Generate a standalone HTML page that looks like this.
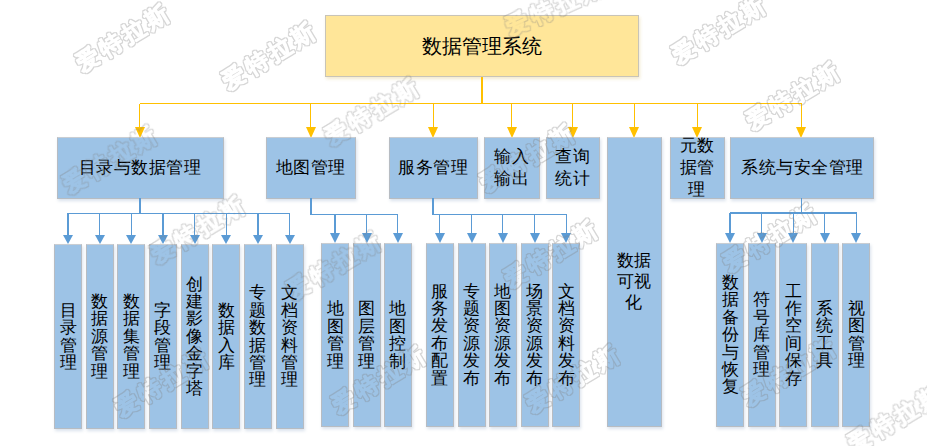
<!DOCTYPE html>
<html><head><meta charset="utf-8"><style>
html,body{margin:0;padding:0;background:#fff;width:927px;height:446px;overflow:hidden;position:relative}
body{font-family:"Liberation Sans",sans-serif;color:#000}
.b{position:absolute;box-sizing:border-box;background:#9DC3E6;border:1px solid #b7bcc2;border-top-color:#c9cdd2;box-shadow:1px 2px 3px rgba(70,110,160,0.2);display:flex;align-items:center;justify-content:center;text-align:center;font-size:17px}
.y{background:#FFE699;border-color:#c8c4b8;box-shadow:1px 2px 3px rgba(200,160,40,0.22);font-size:20px}
.h{line-height:20px;padding-top:0px;letter-spacing:0.5px}
.m{line-height:21.5px;letter-spacing:0.5px}
.v{line-height:17.4px}
.ln{position:absolute}
.wmsvg{position:absolute;left:0;top:0;z-index:5;pointer-events:none}
</style></head><body>
<div class="b y" style="left:324.8px;top:15.3px;width:314px;height:61.7px;">数据管理系统</div>
<div class="ln" style="left:481.0px;top:77px;width:2px;height:27px;background:#FFC000"></div>
<div class="ln" style="left:139.5px;top:102.75px;width:662.0px;height:1.5px;background:#FFC000"></div>
<div class="ln" style="left:138.85px;top:103.5px;width:1.3px;height:24.0px;background:#FFC000"></div>
<div class="ln" style="left:134.5px;top:126.5px;width:0;height:0;border-left:5px solid transparent;border-right:5px solid transparent;border-top:11.0px solid #FFC000"></div>
<div class="ln" style="left:309.95px;top:103.5px;width:1.3px;height:24.0px;background:#FFC000"></div>
<div class="ln" style="left:305.6px;top:126.5px;width:0;height:0;border-left:5px solid transparent;border-right:5px solid transparent;border-top:11.0px solid #FFC000"></div>
<div class="ln" style="left:432.65px;top:103.5px;width:1.3px;height:24.0px;background:#FFC000"></div>
<div class="ln" style="left:428.3px;top:126.5px;width:0;height:0;border-left:5px solid transparent;border-right:5px solid transparent;border-top:11.0px solid #FFC000"></div>
<div class="ln" style="left:511.15px;top:103.5px;width:1.3px;height:24.0px;background:#FFC000"></div>
<div class="ln" style="left:506.8px;top:126.5px;width:0;height:0;border-left:5px solid transparent;border-right:5px solid transparent;border-top:11.0px solid #FFC000"></div>
<div class="ln" style="left:572.15px;top:103.5px;width:1.3px;height:24.0px;background:#FFC000"></div>
<div class="ln" style="left:567.8px;top:126.5px;width:0;height:0;border-left:5px solid transparent;border-right:5px solid transparent;border-top:11.0px solid #FFC000"></div>
<div class="ln" style="left:633.55px;top:103.5px;width:1.3px;height:24.0px;background:#FFC000"></div>
<div class="ln" style="left:629.2px;top:126.5px;width:0;height:0;border-left:5px solid transparent;border-right:5px solid transparent;border-top:11.0px solid #FFC000"></div>
<div class="ln" style="left:696.65px;top:103.5px;width:1.3px;height:24.0px;background:#FFC000"></div>
<div class="ln" style="left:692.3px;top:126.5px;width:0;height:0;border-left:5px solid transparent;border-right:5px solid transparent;border-top:11.0px solid #FFC000"></div>
<div class="ln" style="left:800.55px;top:103.5px;width:1.3px;height:24.0px;background:#FFC000"></div>
<div class="ln" style="left:796.2px;top:126.5px;width:0;height:0;border-left:5px solid transparent;border-right:5px solid transparent;border-top:11.0px solid #FFC000"></div>
<div class="b h" style="left:56.5px;top:136.5px;width:167.0px;height:62.5px;">目录与数据管理</div>
<div class="b h" style="left:265.5px;top:136.5px;width:90.0px;height:62.5px;">地图管理</div>
<div class="b h" style="left:388.5px;top:136.5px;width:89.4px;height:62.5px;">服务管理</div>
<div class="b m" style="left:484.0px;top:136.5px;width:55.5px;height:62.5px;">输入<br>输出</div>
<div class="b m" style="left:545.5px;top:136.5px;width:54.5px;height:62.5px;">查询<br>统计</div>
<div class="b m" style="left:606.5px;top:136.5px;width:55.2px;height:290.5px;line-height:21px">数据<br>可视<br>化</div>
<div class="b m" style="left:669.5px;top:136.5px;width:55.0px;height:62.5px;line-height:22px">元数<br>据管<br>理</div>
<div class="b h" style="left:729.5px;top:136.5px;width:144.0px;height:62.5px;padding-left:2px">系统与安全管理</div>
<div class="ln" style="left:138.8px;top:198px;width:1.8px;height:15.8px;background:#5B9BD5"></div>
<div class="ln" style="left:67.5px;top:212.65px;width:222.62px;height:1.3px;background:#5B9BD5"></div>
<div class="ln" style="left:67.4px;top:213.3px;width:1.2px;height:23.1px;background:#5B9BD5"></div>
<div class="ln" style="left:63.0px;top:235.4px;width:0;height:0;border-left:5px solid transparent;border-right:5px solid transparent;border-top:9.6px solid #5B9BD5"></div>
<div class="ln" style="left:99.06px;top:213.3px;width:1.2px;height:23.1px;background:#5B9BD5"></div>
<div class="ln" style="left:94.66px;top:235.4px;width:0;height:0;border-left:5px solid transparent;border-right:5px solid transparent;border-top:9.6px solid #5B9BD5"></div>
<div class="ln" style="left:130.72px;top:213.3px;width:1.2px;height:23.1px;background:#5B9BD5"></div>
<div class="ln" style="left:126.32px;top:235.4px;width:0;height:0;border-left:5px solid transparent;border-right:5px solid transparent;border-top:9.6px solid #5B9BD5"></div>
<div class="ln" style="left:162.38px;top:213.3px;width:1.2px;height:23.1px;background:#5B9BD5"></div>
<div class="ln" style="left:157.98px;top:235.4px;width:0;height:0;border-left:5px solid transparent;border-right:5px solid transparent;border-top:9.6px solid #5B9BD5"></div>
<div class="ln" style="left:194.04px;top:213.3px;width:1.2px;height:23.1px;background:#5B9BD5"></div>
<div class="ln" style="left:189.64px;top:235.4px;width:0;height:0;border-left:5px solid transparent;border-right:5px solid transparent;border-top:9.6px solid #5B9BD5"></div>
<div class="ln" style="left:225.7px;top:213.3px;width:1.2px;height:23.1px;background:#5B9BD5"></div>
<div class="ln" style="left:221.3px;top:235.4px;width:0;height:0;border-left:5px solid transparent;border-right:5px solid transparent;border-top:9.6px solid #5B9BD5"></div>
<div class="ln" style="left:257.36px;top:213.3px;width:1.2px;height:23.1px;background:#5B9BD5"></div>
<div class="ln" style="left:252.96px;top:235.4px;width:0;height:0;border-left:5px solid transparent;border-right:5px solid transparent;border-top:9.6px solid #5B9BD5"></div>
<div class="ln" style="left:289.02px;top:213.3px;width:1.2px;height:23.1px;background:#5B9BD5"></div>
<div class="ln" style="left:284.62px;top:235.4px;width:0;height:0;border-left:5px solid transparent;border-right:5px solid transparent;border-top:9.6px solid #5B9BD5"></div>
<div class="b v" style="left:54.0px;top:244.2px;width:28.0px;height:184.8px;">目<br>录<br>管<br>理</div>
<div class="b v" style="left:85.66px;top:244.2px;width:28.0px;height:184.8px;">数<br>据<br>源<br>管<br>理</div>
<div class="b v" style="left:117.32px;top:244.2px;width:28.0px;height:184.8px;">数<br>据<br>集<br>管<br>理</div>
<div class="b v" style="left:148.98px;top:244.2px;width:28.0px;height:184.8px;">字<br>段<br>管<br>理</div>
<div class="b v" style="left:180.64px;top:244.2px;width:28.0px;height:184.8px;">创<br>建<br>影<br>像<br>金<br>字<br>塔</div>
<div class="b v" style="left:212.3px;top:244.2px;width:28.0px;height:184.8px;">数<br>据<br>入<br>库</div>
<div class="b v" style="left:243.96px;top:244.2px;width:28px;height:184.8px;">专<br>题<br>数<br>据<br>管<br>理</div>
<div class="b v" style="left:275.62px;top:244.2px;width:28.0px;height:184.8px;">文<br>档<br>资<br>料<br>管<br>理</div>
<div class="ln" style="left:309.9px;top:198px;width:1.8px;height:17.1px;background:#5B9BD5"></div>
<div class="ln" style="left:310.3px;top:213.95px;width:87.9px;height:1.3px;background:#5B9BD5"></div>
<div class="ln" style="left:334.4px;top:214.6px;width:1.2px;height:19.6px;background:#5B9BD5"></div>
<div class="ln" style="left:330.0px;top:233.2px;width:0;height:0;border-left:5px solid transparent;border-right:5px solid transparent;border-top:10.4px solid #5B9BD5"></div>
<div class="ln" style="left:366.1px;top:214.6px;width:1.2px;height:19.6px;background:#5B9BD5"></div>
<div class="ln" style="left:361.7px;top:233.2px;width:0;height:0;border-left:5px solid transparent;border-right:5px solid transparent;border-top:10.4px solid #5B9BD5"></div>
<div class="ln" style="left:397.1px;top:214.6px;width:1.2px;height:19.6px;background:#5B9BD5"></div>
<div class="ln" style="left:392.7px;top:233.2px;width:0;height:0;border-left:5px solid transparent;border-right:5px solid transparent;border-top:10.4px solid #5B9BD5"></div>
<div class="b v" style="left:321.0px;top:242.8px;width:28.0px;height:184.7px;">地<br>图<br>管<br>理</div>
<div class="b v" style="left:352.7px;top:242.8px;width:28.0px;height:184.7px;">图<br>层<br>管<br>理</div>
<div class="b v" style="left:383.7px;top:242.8px;width:28.0px;height:184.7px;">地<br>图<br>控<br>制</div>
<div class="ln" style="left:432.1px;top:198px;width:1.8px;height:17.3px;background:#5B9BD5"></div>
<div class="ln" style="left:432.5px;top:214.15px;width:134.3px;height:1.3px;background:#5B9BD5"></div>
<div class="ln" style="left:439.2px;top:214.8px;width:1.2px;height:19.4px;background:#5B9BD5"></div>
<div class="ln" style="left:434.8px;top:233.2px;width:0;height:0;border-left:5px solid transparent;border-right:5px solid transparent;border-top:10.1px solid #5B9BD5"></div>
<div class="ln" style="left:470.9px;top:214.8px;width:1.2px;height:19.4px;background:#5B9BD5"></div>
<div class="ln" style="left:466.5px;top:233.2px;width:0;height:0;border-left:5px solid transparent;border-right:5px solid transparent;border-top:10.1px solid #5B9BD5"></div>
<div class="ln" style="left:502.3px;top:214.8px;width:1.2px;height:19.4px;background:#5B9BD5"></div>
<div class="ln" style="left:497.9px;top:233.2px;width:0;height:0;border-left:5px solid transparent;border-right:5px solid transparent;border-top:10.1px solid #5B9BD5"></div>
<div class="ln" style="left:534.3px;top:214.8px;width:1.2px;height:19.4px;background:#5B9BD5"></div>
<div class="ln" style="left:529.9px;top:233.2px;width:0;height:0;border-left:5px solid transparent;border-right:5px solid transparent;border-top:10.1px solid #5B9BD5"></div>
<div class="ln" style="left:565.7px;top:214.8px;width:1.2px;height:19.4px;background:#5B9BD5"></div>
<div class="ln" style="left:561.3px;top:233.2px;width:0;height:0;border-left:5px solid transparent;border-right:5px solid transparent;border-top:10.1px solid #5B9BD5"></div>
<div class="b v" style="left:425.8px;top:242.5px;width:28.0px;height:184.5px;">服<br>务<br>发<br>布<br>配<br>置</div>
<div class="b v" style="left:457.5px;top:242.5px;width:28.0px;height:184.5px;">专<br>题<br>资<br>源<br>发<br>布</div>
<div class="b v" style="left:488.9px;top:242.5px;width:28.0px;height:184.5px;">地<br>图<br>资<br>源<br>发<br>布</div>
<div class="b v" style="left:520.9px;top:242.5px;width:28.0px;height:184.5px;">场<br>景<br>资<br>源<br>发<br>布</div>
<div class="b v" style="left:552.3px;top:242.5px;width:28.0px;height:184.5px;">文<br>档<br>资<br>料<br>发<br>布</div>
<div class="ln" style="left:800.5px;top:197.5px;width:1.8px;height:15.9px;background:#5B9BD5"></div>
<div class="ln" style="left:729.5px;top:212.25px;width:127.2px;height:1.3px;background:#5B9BD5"></div>
<div class="ln" style="left:729.4px;top:212.9px;width:1.2px;height:21.4px;background:#5B9BD5"></div>
<div class="ln" style="left:725.0px;top:233.3px;width:0;height:0;border-left:5px solid transparent;border-right:5px solid transparent;border-top:10.2px solid #5B9BD5"></div>
<div class="ln" style="left:761.1px;top:212.9px;width:1.2px;height:21.4px;background:#5B9BD5"></div>
<div class="ln" style="left:756.7px;top:233.3px;width:0;height:0;border-left:5px solid transparent;border-right:5px solid transparent;border-top:10.2px solid #5B9BD5"></div>
<div class="ln" style="left:792.5px;top:212.9px;width:1.2px;height:21.4px;background:#5B9BD5"></div>
<div class="ln" style="left:788.1px;top:233.3px;width:0;height:0;border-left:5px solid transparent;border-right:5px solid transparent;border-top:10.2px solid #5B9BD5"></div>
<div class="ln" style="left:824.2px;top:212.9px;width:1.2px;height:21.4px;background:#5B9BD5"></div>
<div class="ln" style="left:819.8px;top:233.3px;width:0;height:0;border-left:5px solid transparent;border-right:5px solid transparent;border-top:10.2px solid #5B9BD5"></div>
<div class="ln" style="left:855.6px;top:212.9px;width:1.2px;height:21.4px;background:#5B9BD5"></div>
<div class="ln" style="left:851.2px;top:233.3px;width:0;height:0;border-left:5px solid transparent;border-right:5px solid transparent;border-top:10.2px solid #5B9BD5"></div>
<div class="b v" style="left:716.0px;top:242.7px;width:28.0px;height:184.4px;">数<br>据<br>备<br>份<br>与<br>恢<br>复</div>
<div class="b v" style="left:747.7px;top:242.7px;width:28.0px;height:184.4px;">符<br>号<br>库<br>管<br>理</div>
<div class="b v" style="left:779.1px;top:242.7px;width:28.0px;height:184.4px;">工<br>作<br>空<br>间<br>保<br>存</div>
<div class="b v" style="left:810.8px;top:242.7px;width:28.0px;height:184.4px;">系<br>统<br>工<br>具</div>
<div class="b v" style="left:842.2px;top:242.7px;width:28.0px;height:184.4px;">视<br>图<br>管<br>理</div>
<svg class="wmsvg" width="927" height="446" viewBox="0 0 927 446"><defs><filter id="ring" x="-10%" y="-10%" width="120%" height="120%"><feMorphology in="SourceAlpha" operator="dilate" radius="1.4" result="d"/><feComposite in="d" in2="SourceAlpha" operator="out" result="r"/><feFlood flood-color="#808080" flood-opacity="0.32"/><feComposite in2="r" operator="in"/></filter></defs><g filter="url(#ring)" font-size="23" font-weight="bold" letter-spacing="4" fill="#000" stroke="#000" stroke-width="1.1" stroke-linejoin="round" font-family="Liberation Sans, sans-serif"><text x="0" y="0" transform="translate(270 55) rotate(-31)" text-anchor="middle" dominant-baseline="central">爱特拉斯</text><text x="0" y="0" transform="translate(124 37) rotate(-31)" text-anchor="middle" dominant-baseline="central">爱特拉斯</text><text x="0" y="0" transform="translate(111 159) rotate(-31)" text-anchor="middle" dominant-baseline="central">爱特拉斯</text><text x="0" y="0" transform="translate(199 229) rotate(-31)" text-anchor="middle" dominant-baseline="central">爱特拉斯</text><text x="0" y="0" transform="translate(335 265) rotate(-31)" text-anchor="middle" dominant-baseline="central">爱特拉斯</text><text x="0" y="0" transform="translate(163 382) rotate(-31)" text-anchor="middle" dominant-baseline="central">爱特拉斯</text><text x="0" y="0" transform="translate(380 379) rotate(-31)" text-anchor="middle" dominant-baseline="central">爱特拉斯</text><text x="0" y="0" transform="translate(373 111) rotate(-31)" text-anchor="middle" dominant-baseline="central">爱特拉斯</text><text x="0" y="0" transform="translate(556 6) rotate(-24)" text-anchor="middle" dominant-baseline="central">爱特拉斯</text><text x="0" y="0" transform="translate(720 29) rotate(-31)" text-anchor="middle" dominant-baseline="central">爱特拉斯</text><text x="0" y="0" transform="translate(794 95) rotate(-31)" text-anchor="middle" dominant-baseline="central">爱特拉斯</text><text x="0" y="0" transform="translate(528.5 157) rotate(-31)" text-anchor="middle" dominant-baseline="central">爱特拉斯</text><text x="0" y="0" transform="translate(552 253) rotate(-31)" text-anchor="middle" dominant-baseline="central">爱特拉斯</text><text x="0" y="0" transform="translate(574 378) rotate(-31)" text-anchor="middle" dominant-baseline="central">爱特拉斯</text><text x="0" y="0" transform="translate(771 237) rotate(-31)" text-anchor="middle" dominant-baseline="central">爱特拉斯</text><text x="0" y="0" transform="translate(790 371) rotate(-31)" text-anchor="middle" dominant-baseline="central">爱特拉斯</text><text x="0" y="0" transform="translate(896 418) rotate(-31)" text-anchor="middle" dominant-baseline="central">爱特拉斯</text></g></svg>
</body></html>
